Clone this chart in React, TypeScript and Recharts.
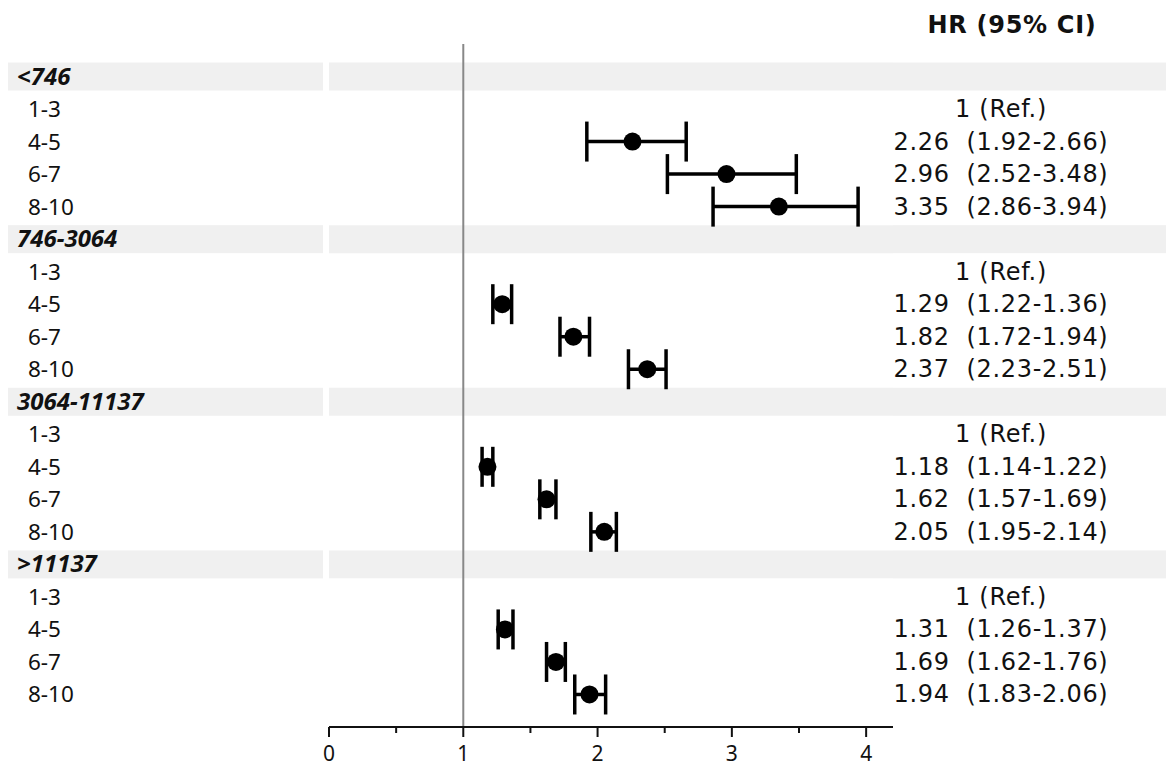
import React from 'react';
import {
  ScatterChart,
  Scatter,
  XAxis,
  YAxis,
  ErrorBar,
  ReferenceLine,
  ReferenceArea,
} from 'recharts';

const groups = ['<746', '746-3064', '3064-11137', '>11137'];
const levels = ['1-3', '4-5', '6-7', '8-10'];
// HR, lower, upper for each group (first level is reference)
const hrValues = [
  [1, 2.26, 2.96, 3.35],
  [1, 1.29, 1.82, 2.37],
  [1, 1.18, 1.62, 2.05],
  [1, 1.31, 1.69, 1.94],
];
const lowerValues = [
  [1, 1.92, 2.52, 2.86],
  [1, 1.22, 1.72, 2.23],
  [1, 1.14, 1.57, 1.95],
  [1, 1.26, 1.62, 1.83],
];
const upperValues = [
  [1, 2.66, 3.48, 3.94],
  [1, 1.36, 1.94, 2.51],
  [1, 1.22, 1.69, 2.14],
  [1, 1.37, 1.76, 2.06],
];
const xTicks = [0, 0.5, 1, 1.5, 2, 2.5, 3, 3.5, 4];

type Row = { idx: number; label: string; header: boolean; right: string };
const rows: Row[] = [];
const points: { x: number; y: number; err: [number, number] }[] = [];
groups.forEach((g, gi) => {
  rows.push({ idx: rows.length, label: g, header: true, right: '' });
  levels.forEach((lv, li) => {
    const idx = rows.length;
    const hr = hrValues[gi][li];
    const lo = lowerValues[gi][li];
    const hi = upperValues[gi][li];
    const isRef = li === 0;
    rows.push({
      idx,
      label: lv,
      header: false,
      right: isRef ? '1 (Ref.)' : `${hr.toFixed(2)}  (${lo.toFixed(2)}-${hi.toFixed(2)})`,
    });
    if (!isRef) {
      points.push({ x: hr, y: idx, err: [+(hr - lo).toFixed(2), +(hi - hr).toFixed(2)] });
    }
  });
});
const rowTicks = rows.map((r) => r.idx);
const headerRows = rows.filter((r) => r.header);

const BAND_H = 28;
const BAND = '#f0f0f0';
const LEFT_FONT = '"Noto Sans", "Open Sans", sans-serif';
const RIGHT_FONT = '"DejaVu Sans", sans-serif';

const LeftTick = (props: any) => {
  const { y, payload } = props;
  const row = rows[payload.value];
  if (!row) return null;
  return (
    <g>
      {row.header && (
        <rect x={8} y={y - BAND_H / 2} width={315} height={BAND_H} fill={BAND} />
      )}
      <text
        x={row.header ? 17 : 28}
        y={y + 8}
        fontFamily={LEFT_FONT}
        fontSize={row.header ? 24 : 22.5}
        fontWeight={row.header ? 700 : 400}
        fontStyle={row.header ? 'italic' : 'normal'}
        fill="#111"
      >
        {row.label}
      </text>
    </g>
  );
};

const RightTick = (props: any) => {
  const { y, payload } = props;
  const row = rows[payload.value];
  if (!row) return null;
  return (
    <g>
      {row.header && (
        <rect x={893} y={y - BAND_H / 2} width={273} height={BAND_H} fill={BAND} />
      )}
      {!row.header && (
        <text
          x={1001}
          y={y + 8}
          textAnchor="middle"
          fontFamily={RIGHT_FONT}
          fontSize={24}
          letterSpacing={0.7}
          fill="#111"
          style={{ whiteSpace: 'pre' }}
        >
          {row.right}
        </text>
      )}
    </g>
  );
};

const XTick = (props: any) => {
  const { x, y, payload } = props;
  const v = payload.value as number;
  const major = Number.isInteger(v);
  return (
    <g>
      <line x1={x} y1={y} x2={x} y2={y + (major ? 10 : 6)} stroke="#111" strokeWidth={2} />
      {major && (
        <text x={x} y={y + 34} textAnchor="middle" fontFamily={LEFT_FONT} fontSize={21} fill="#111">
          {v}
        </text>
      )}
    </g>
  );
};

const Dot = (props: any) => <circle cx={props.cx} cy={props.cy} r={9} fill="#000" />;

export default function App() {
  return (
    <div style={{ position: 'absolute', left: 0, top: 0, width: 1166, height: 766, background: '#fff' }}>
      <svg style={{ position: 'absolute', left: 0, top: 0 }} width={1166} height={44}>
        <text x={1012} y={33} textAnchor="middle" fontFamily={RIGHT_FONT} fontWeight={700} fontSize={24} letterSpacing={0.7} fill="#111">
          HR (95% CI)
        </text>
      </svg>
      <ScatterChart
        width={1166}
        height={766}
        margin={{ top: 44, right: 0, bottom: 0, left: 0 }}
      >
        <XAxis
          type="number"
          dataKey="x"
          domain={[0, 4.2]}
          ticks={xTicks}
          interval={0}
          allowDataOverflow
          tickLine={false}
          tickSize={0}
          tickMargin={0}
          axisLine={{ stroke: '#111', strokeWidth: 2 }}
          tick={<XTick />}
          height={39}
        />
        <YAxis
          yAxisId="left"
          type="number"
          dataKey="y"
          domain={[-1, 20]}
          reversed
          ticks={rowTicks}
          interval={0}
          allowDataOverflow
          axisLine={false}
          tickLine={false}
          tickSize={0}
          tickMargin={0}
          width={329}
          tick={<LeftTick />}
        />
        <YAxis
          yAxisId="right"
          orientation="right"
          type="number"
          domain={[-1, 20]}
          reversed
          ticks={rowTicks}
          interval={0}
          allowDataOverflow
          axisLine={false}
          tickLine={false}
          tickSize={0}
          tickMargin={0}
          width={273}
          tick={<RightTick />}
        />
        {headerRows.map((r) => (
          <ReferenceArea
            key={r.idx}
            yAxisId="left"
            y1={r.idx - 0.43}
            y2={r.idx + 0.43}
            fill={BAND}
            fillOpacity={1}
            stroke="none"
          />
        ))}
        <ReferenceLine yAxisId="left" x={1} stroke="#888" strokeWidth={2} />
        <Scatter yAxisId="left" data={points} shape={<Dot />} isAnimationActive={false}>
          <ErrorBar dataKey="err" direction="x" width={20} strokeWidth={3.5} stroke="#000" />
        </Scatter>
      </ScatterChart>
    </div>
  );
}
